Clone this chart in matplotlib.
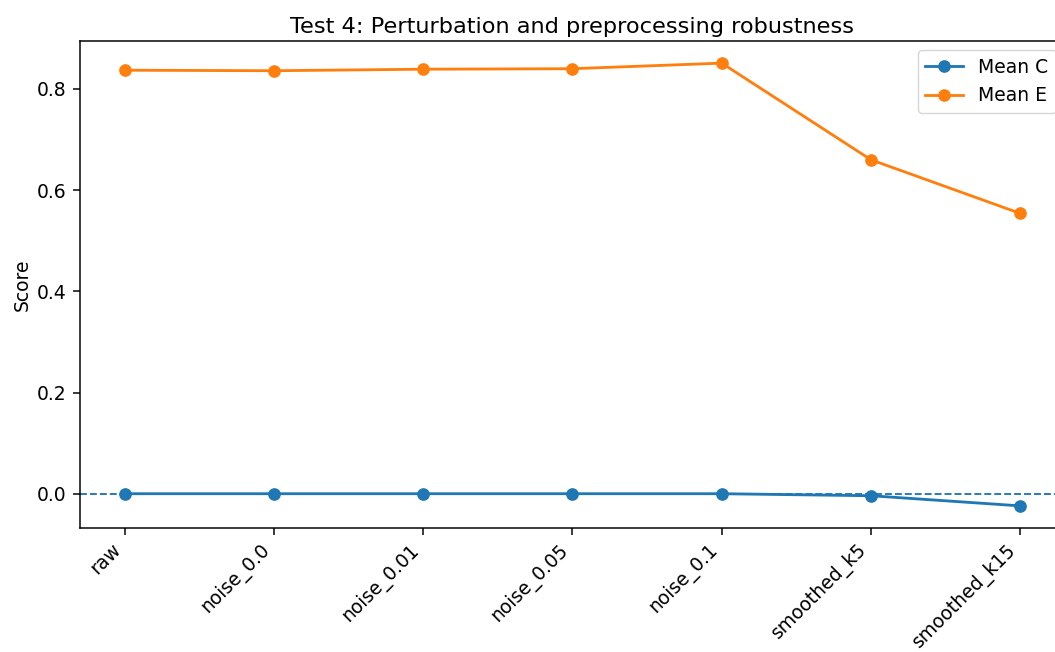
import matplotlib
matplotlib.use("Agg")
import matplotlib.pyplot as plt

conditions = ["raw", "noise_0.0", "noise_0.01", "noise_0.05", "noise_0.1",
              "smoothed_k5", "smoothed_k15"]
mean_c = [0.0, 0.0, 0.0, 0.0, 0.0, -0.004, -0.024]
mean_e = [0.837, 0.836, 0.839, 0.840, 0.851, 0.660, 0.554]

s = 1.35  # scale of fonts and line widths
plt.rcParams.update({
    "font.size": 10 * s,
    "lines.linewidth": 1.5 * s,
    "lines.markersize": 6 * s,
    "axes.linewidth": 0.8 * s,
    "xtick.major.width": 0.8 * s,
    "ytick.major.width": 0.8 * s,
    "xtick.major.size": 3.5 * s,
    "ytick.major.size": 3.5 * s,
    "xtick.major.pad": 3.0 * s,
    "ytick.major.pad": 3.5 * s,
})

fig = plt.figure(figsize=(10.55, 6.52), dpi=100)
ax = fig.add_axes([80 / 1055, 1 - 528 / 652, 985 / 1055, 487 / 652])

x = range(len(conditions))
ax.plot(x, mean_c, marker="o", label="Mean C")
ax.plot(x, mean_e, marker="o", label="Mean E")
ax.axhline(0, linestyle="--", linewidth=1 * s, color="C0")

ax.set_xticks(list(x))
ax.set_xticklabels(conditions, rotation=45, ha="right")
ax.set_ylabel("Score")
ax.set_title("Test 4: Perturbation and preprocessing robustness")
ax.legend(loc="upper right")

fig.savefig("out.png", dpi=100)
